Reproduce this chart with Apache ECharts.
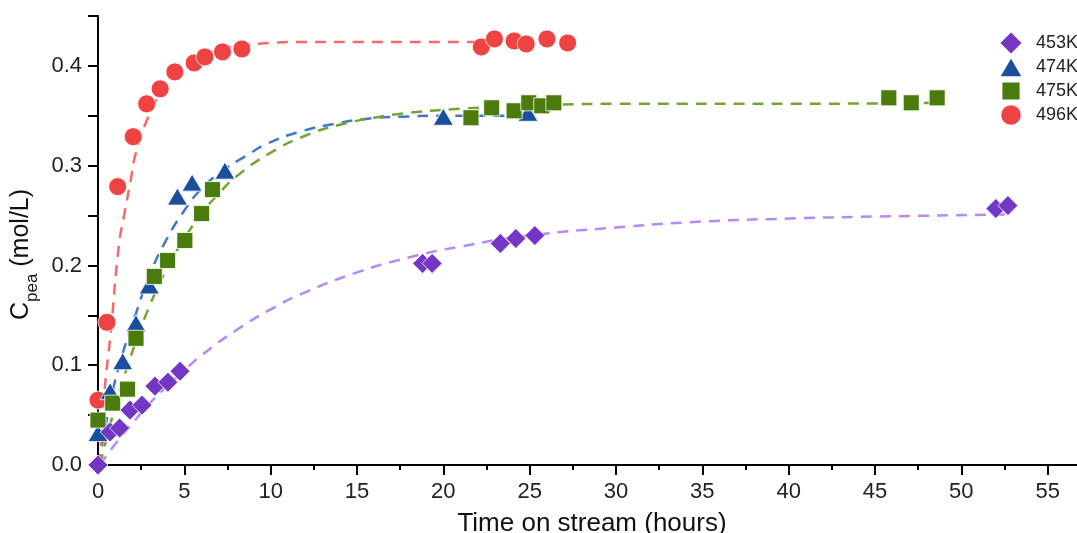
<!DOCTYPE html>
<html>
<head>
<meta charset="utf-8">
<script src="https://cdn.jsdelivr.net/npm/echarts@6/dist/echarts.min.js"></script>
<style>
  html, body { margin: 0; padding: 0; background: #fff; }
  #chart { width: 1077px; height: 533px; }
</style>
</head>
<body>
<div id="chart"></div>
<script>
// Series names (reaction temperature)
const seriesNames = ['453K', '474K', '475K', '496K'];

// Measured points: time on stream (h) and concentration (mol/L)
const t453 = [0, 0.7, 1.25, 1.85, 2.55, 3.3, 4.05, 4.75, 18.8, 19.35, 23.3, 24.2, 25.3, 52.0, 52.7];
const c453 = [0, 0.033, 0.037, 0.055, 0.060, 0.079, 0.083, 0.094, 0.202, 0.202, 0.222, 0.227, 0.230, 0.257, 0.260];

const t474 = [0, 0.7, 1.43, 2.2, 2.97, 4.6, 5.45, 7.35, 20.0, 24.9];
const c474 = [0.032, 0.074, 0.104, 0.142, 0.180, 0.269, 0.283, 0.295, 0.349, 0.353];

const t475 = [0, 0.85, 1.71, 2.2, 3.26, 4.03, 5.03, 6.0, 6.63, 21.6, 22.8, 24.1, 24.95, 25.7, 26.4, 45.8, 47.1, 48.6];
const c475 = [0.045, 0.062, 0.076, 0.127, 0.189, 0.205, 0.225, 0.252, 0.276, 0.348, 0.358, 0.355, 0.363, 0.360, 0.363, 0.368, 0.363, 0.368];

const t496 = [0, 0.52, 1.14, 2.04, 2.82, 3.6, 4.45, 5.57, 6.19, 7.21, 8.33, 22.2, 22.96, 24.1, 24.8, 26.0, 27.2];
const c496 = [0.065, 0.143, 0.279, 0.329, 0.362, 0.377, 0.394, 0.403, 0.409, 0.414, 0.417, 0.419, 0.427, 0.425, 0.422, 0.427, 0.423];

// Fitted model curves (dashed)
const fit453T = [0.1, 1, 2, 3, 4, 5, 6, 8, 10, 12, 15, 18, 21, 25, 30, 35, 40, 45, 52.7];
const fit453C = [0, 0.021, 0.042, 0.062, 0.079, 0.095, 0.110, 0.135, 0.156, 0.173, 0.193, 0.208, 0.219, 0.230, 0.238, 0.244, 0.247, 0.249, 0.251];

const fit474T = [0.05, 0.7, 1.4, 2.2, 3, 4, 5, 6, 7.3, 8.5, 9.8, 11.7, 13.7, 15.6, 17.5, 20, 22.5, 24.9];
const fit474C = [0, 0.062, 0.110, 0.152, 0.191, 0.227, 0.255, 0.277, 0.296, 0.309, 0.322, 0.334, 0.342, 0.347, 0.349, 0.350, 0.350, 0.350];

const fit475T = [0.12, 1, 2, 3, 4, 5, 6, 7, 8, 10, 12, 14, 16, 18, 21, 25, 30, 40, 48.6];
const fit475C = [0, 0.059, 0.114, 0.160, 0.197, 0.227, 0.252, 0.272, 0.289, 0.313, 0.330, 0.341, 0.348, 0.353, 0.357, 0.360, 0.362, 0.362, 0.363];

const fit496T = [0.12, 0.35, 0.75, 1.2, 1.5, 1.9, 2.2, 3, 4, 5, 6, 7, 8, 10, 12, 15, 20, 27.2];
const fit496C = [0, 0.068, 0.135, 0.219, 0.249, 0.286, 0.313, 0.352, 0.383, 0.400, 0.410, 0.416, 0.420, 0.423, 0.424, 0.424, 0.424, 0.424];

const zip = (xs, ys) => xs.map((x, i) => [x, ys[i]]);

const markerColors = ['#7436c4', '#1a4f9e', '#4b7b0c', '#ef4343'];
const fitColors = ['#b58af2', '#3f79c9', '#74a532', '#f66a6a'];
const symbols = ['diamond', 'triangle', 'rect', 'circle'];
const symbolSizes = [20, [20, 17], 16, 18];
// legend glyphs inside a 20x20 box so each keeps its own size
const legendIcons = [
  'path://M10,0L20,10L10,20L0,10Z',
  'path://M0,0M20,20M10,1.5L20,18.5L0,18.5Z',
  'path://M0,0M20,20M2,2L18,2L18,18L2,18Z',
  'path://M0,0M20,20M1,10A9,9 0 1,0 19,10A9,9 0 1,0 1,10Z'
];

const points = [zip(t453, c453), zip(t474, c474), zip(t475, c475), zip(t496, c496)];
const fits = [zip(fit453T, fit453C), zip(fit474T, fit474C), zip(fit475T, fit475C), zip(fit496T, fit496C)];

const FONT = '"Liberation Sans", Arial, sans-serif';

const series = [];
// dashed model curves underneath the markers
fits.forEach((d, i) => {
  series.push({
    name: seriesNames[i] + ' fit',
    type: 'line',
    data: d,
    smooth: 0.5,
    showSymbol: false,
    symbol: 'none',
    z: 1,
    lineStyle: { color: fitColors[i], width: 2.5, type: [11, 8] },
    silent: true
  });
});
// markers: red drawn first, purple last
const drawOrder = [3, 1, 2, 0];
drawOrder.forEach((i, k) => {
  series.push({
    name: seriesNames[i],
    type: 'scatter',
    data: points[i],
    symbol: symbols[i],
    symbolSize: symbolSizes[i],
    z: 2 + k,
    itemStyle: { color: markerColors[i], borderColor: '#ffffff', borderWidth: 0.8, opacity: 1 }
  });
});

const chart = echarts.init(document.getElementById('chart'), null, { renderer: 'canvas' });
chart.setOption({
  animation: false,
  backgroundColor: '#ffffff',
  grid: { left: 98, top: 16, right: -57, bottom: 68, containLabel: false, outerBoundsMode: 'none' },
  legend: {
    data: seriesNames.map((n, i) => ({ name: n, icon: legendIcons[i] })),
    orient: 'vertical',
    left: 993,
    top: 25,
    padding: 5,
    itemWidth: 24,
    itemHeight: 24,
    itemGap: -2,
    textStyle: { fontFamily: FONT, fontSize: 18, color: '#222', padding: [0, 0, 0, 8] }
  },
  xAxis: {
    type: 'value',
    min: 0,
    max: 60,
    interval: 5,
    name: 'Time on stream (hours)',
    nameLocation: 'middle',
    nameGap: 46,
    nameTextStyle: { fontFamily: FONT, fontSize: 26, color: '#111', padding: [0, 48, 0, 0] },
    axisLine: { onZero: false, lineStyle: { color: '#000', width: 2 } },
    axisTick: { show: true, inside: false, length: 10, lineStyle: { color: '#000', width: 2 } },
    minorTick: { show: true, splitNumber: 2, length: 5, lineStyle: { color: '#000', width: 2 } },
    axisLabel: { fontFamily: FONT, fontSize: 22, color: '#222', margin: 16, showMaxLabel: false },
    splitLine: { show: false }
  },
  yAxis: {
    type: 'value',
    min: 0,
    max: 0.45,
    interval: 0.05,
    name: '{c|C}{s|pea}{c| (mol/L)}',
    nameLocation: 'middle',
    nameRotate: 90,
    nameGap: 53,
    nameTextStyle: {
      fontFamily: FONT,
      color: '#111',
      padding: [0, 28, 0, 0],
      rich: {
        c: { fontFamily: FONT, fontSize: 25, lineHeight: 25, verticalAlign: 'top', color: '#111' },
        s: { fontFamily: FONT, fontSize: 17, lineHeight: 17, verticalAlign: 'top', padding: [15, 0, 0, 0], color: '#111' }
      }
    },
    axisLine: { onZero: false, lineStyle: { color: '#000', width: 2 } },
    axisTick: { show: true, inside: false, length: 10, lineStyle: { color: '#000', width: 2 } },
    axisLabel: {
      fontFamily: FONT,
      fontSize: 22,
      color: '#222',
      margin: 16,
      formatter: function (v) {
        const s = v * 10;
        return Math.abs(s - Math.round(s)) < 1e-6 ? v.toFixed(1) : '';
      }
    },
    splitLine: { show: false }
  },
  series: series
});
</script>
</body>
</html>
